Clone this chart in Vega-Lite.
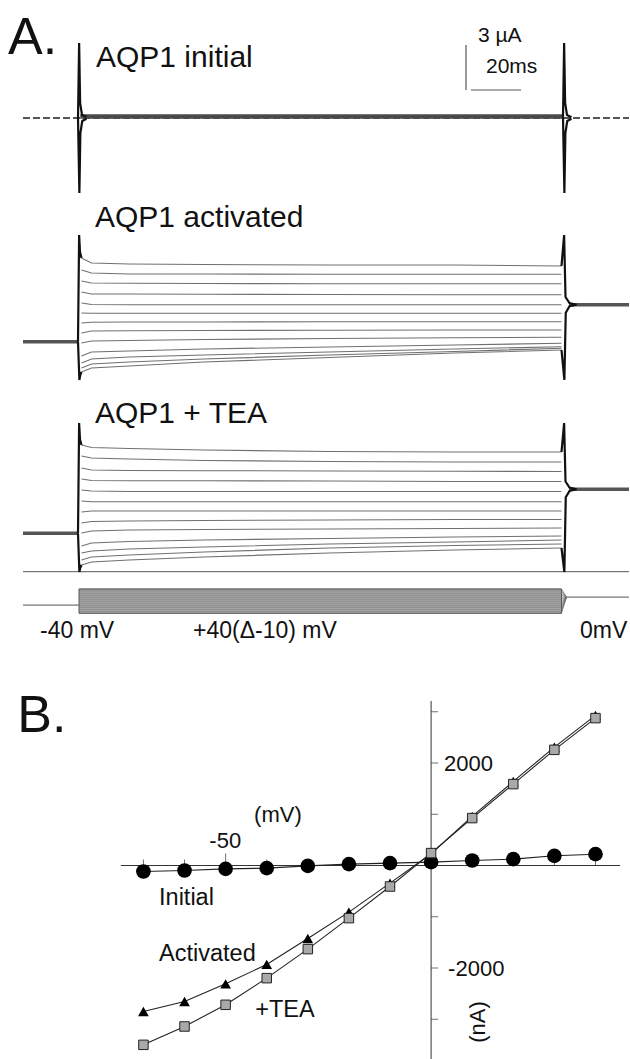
{
 "$schema": "https://vega.github.io/schema/vega-lite/v6.json",
 "padding": 0,
 "background": "white",
 "bounds": "flush",
 "spacing": 0,
 "config": {"view": {"stroke": null}, "text": {"font": "Liberation Sans", "color": "#111"}},
 "datasets": {
  "traces": [
   {"p":"a","s":40,"t":1,"i":3.4},{"p":"a","s":40,"t":5,"i":3.067},{"p":"a","s":40,"t":20,"i":3.0},{"p":"a","s":40,"t":50,"i":2.967},{"p":"a","s":40,"t":100,"i":2.933},{"p":"a","s":40,"t":150,"i":2.933},{"p":"a","s":40,"t":193,"i":2.867},
   {"p":"a","s":30,"t":1,"i":2.6},{"p":"a","s":30,"t":5,"i":2.4},{"p":"a","s":30,"t":20,"i":2.333},{"p":"a","s":30,"t":50,"i":2.333},{"p":"a","s":30,"t":100,"i":2.313},{"p":"a","s":30,"t":150,"i":2.313},{"p":"a","s":30,"t":193,"i":2.313},
   {"p":"a","s":20,"t":1,"i":1.867},{"p":"a","s":20,"t":5,"i":1.733},{"p":"a","s":20,"t":20,"i":1.713},{"p":"a","s":20,"t":50,"i":1.7},{"p":"a","s":20,"t":100,"i":1.687},{"p":"a","s":20,"t":150,"i":1.687},{"p":"a","s":20,"t":193,"i":1.687},
   {"p":"a","s":10,"t":1,"i":1.133},{"p":"a","s":10,"t":5,"i":1.0},{"p":"a","s":10,"t":20,"i":1.0},{"p":"a","s":10,"t":50,"i":0.98},{"p":"a","s":10,"t":100,"i":0.967},{"p":"a","s":10,"t":150,"i":0.953},{"p":"a","s":10,"t":193,"i":0.953},
   {"p":"a","s":0,"t":1,"i":0.4},{"p":"a","s":0,"t":5,"i":0.3},{"p":"a","s":0,"t":20,"i":0.287},{"p":"a","s":0,"t":50,"i":0.287},{"p":"a","s":0,"t":100,"i":0.287},{"p":"a","s":0,"t":150,"i":0.287},{"p":"a","s":0,"t":193,"i":0.287},
   {"p":"a","s":-10,"t":1,"i":-0.267},{"p":"a","s":-10,"t":5,"i":-0.287},{"p":"a","s":-10,"t":20,"i":-0.287},{"p":"a","s":-10,"t":50,"i":-0.287},{"p":"a","s":-10,"t":100,"i":-0.287},{"p":"a","s":-10,"t":150,"i":-0.287},{"p":"a","s":-10,"t":193,"i":-0.287},
   {"p":"a","s":-20,"t":1,"i":-0.933},{"p":"a","s":-20,"t":5,"i":-0.887},{"p":"a","s":-20,"t":20,"i":-0.867},{"p":"a","s":-20,"t":50,"i":-0.867},{"p":"a","s":-20,"t":100,"i":-0.853},{"p":"a","s":-20,"t":150,"i":-0.847},{"p":"a","s":-20,"t":193,"i":-0.847},
   {"p":"a","s":-30,"t":1,"i":-1.6},{"p":"a","s":-30,"t":5,"i":-1.467},{"p":"a","s":-30,"t":20,"i":-1.453},{"p":"a","s":-30,"t":50,"i":-1.433},{"p":"a","s":-30,"t":100,"i":-1.42},{"p":"a","s":-30,"t":150,"i":-1.4},{"p":"a","s":-30,"t":193,"i":-1.4},
   {"p":"a","s":-40,"t":1,"i":-2.267},{"p":"a","s":-40,"t":5,"i":-2.133},{"p":"a","s":-40,"t":20,"i":-2.1},{"p":"a","s":-40,"t":50,"i":-2.033},{"p":"a","s":-40,"t":100,"i":-1.967},{"p":"a","s":-40,"t":150,"i":-1.92},{"p":"a","s":-40,"t":193,"i":-1.887},
   {"p":"a","s":-50,"t":1,"i":-3.133},{"p":"a","s":-50,"t":5,"i":-2.867},{"p":"a","s":-50,"t":20,"i":-2.8},{"p":"a","s":-50,"t":50,"i":-2.667},{"p":"a","s":-50,"t":100,"i":-2.533},{"p":"a","s":-50,"t":150,"i":-2.4},{"p":"a","s":-50,"t":193,"i":-2.287},
   {"p":"a","s":-60,"t":1,"i":-3.6},{"p":"a","s":-60,"t":5,"i":-3.333},{"p":"a","s":-60,"t":20,"i":-3.2},{"p":"a","s":-60,"t":50,"i":-3.067},{"p":"a","s":-60,"t":100,"i":-2.867},{"p":"a","s":-60,"t":150,"i":-2.667},{"p":"a","s":-60,"t":193,"i":-2.513},
   {"p":"a","s":-70,"t":1,"i":-3.933},{"p":"a","s":-70,"t":5,"i":-3.667},{"p":"a","s":-70,"t":20,"i":-3.533},{"p":"a","s":-70,"t":50,"i":-3.333},{"p":"a","s":-70,"t":100,"i":-3.067},{"p":"a","s":-70,"t":150,"i":-2.833},{"p":"a","s":-70,"t":193,"i":-2.62},
   {"p":"a","s":-80,"t":1,"i":-4.2},{"p":"a","s":-80,"t":5,"i":-3.933},{"p":"a","s":-80,"t":20,"i":-3.8},{"p":"a","s":-80,"t":50,"i":-3.533},{"p":"a","s":-80,"t":100,"i":-3.233},{"p":"a","s":-80,"t":150,"i":-2.933},{"p":"a","s":-80,"t":193,"i":-2.733},
   {"p":"t","s":40,"t":1,"i":3.333},{"p":"t","s":40,"t":5,"i":3.167},{"p":"t","s":40,"t":20,"i":3.1},{"p":"t","s":40,"t":50,"i":3.0},{"p":"t","s":40,"t":100,"i":2.9},{"p":"t","s":40,"t":150,"i":2.867},{"p":"t","s":40,"t":193,"i":2.867},
   {"p":"t","s":30,"t":1,"i":2.6},{"p":"t","s":30,"t":5,"i":2.467},{"p":"t","s":30,"t":20,"i":2.4},{"p":"t","s":30,"t":50,"i":2.3},{"p":"t","s":30,"t":100,"i":2.233},{"p":"t","s":30,"t":150,"i":2.2},{"p":"t","s":30,"t":193,"i":2.2},
   {"p":"t","s":20,"t":1,"i":1.8},{"p":"t","s":20,"t":5,"i":1.667},{"p":"t","s":20,"t":20,"i":1.633},{"p":"t","s":20,"t":50,"i":1.62},{"p":"t","s":20,"t":100,"i":1.6},{"p":"t","s":20,"t":150,"i":1.58},{"p":"t","s":20,"t":193,"i":1.567},
   {"p":"t","s":10,"t":1,"i":1.067},{"p":"t","s":10,"t":5,"i":0.967},{"p":"t","s":10,"t":20,"i":0.953},{"p":"t","s":10,"t":50,"i":0.953},{"p":"t","s":10,"t":100,"i":0.933},{"p":"t","s":10,"t":150,"i":0.9},{"p":"t","s":10,"t":193,"i":0.9},
   {"p":"t","s":0,"t":1,"i":0.333},{"p":"t","s":0,"t":5,"i":0.267},{"p":"t","s":0,"t":20,"i":0.233},{"p":"t","s":0,"t":50,"i":0.233},{"p":"t","s":0,"t":100,"i":0.233},{"p":"t","s":0,"t":150,"i":0.233},{"p":"t","s":0,"t":193,"i":0.233},
   {"p":"t","s":-10,"t":1,"i":-0.4},{"p":"t","s":-10,"t":5,"i":-0.447},{"p":"t","s":-10,"t":20,"i":-0.447},{"p":"t","s":-10,"t":50,"i":-0.447},{"p":"t","s":-10,"t":100,"i":-0.447},{"p":"t","s":-10,"t":150,"i":-0.447},{"p":"t","s":-10,"t":193,"i":-0.447},
   {"p":"t","s":-20,"t":1,"i":-1.133},{"p":"t","s":-20,"t":5,"i":-1.067},{"p":"t","s":-20,"t":20,"i":-1.067},{"p":"t","s":-20,"t":50,"i":-1.067},{"p":"t","s":-20,"t":100,"i":-1.067},{"p":"t","s":-20,"t":150,"i":-1.067},{"p":"t","s":-20,"t":193,"i":-1.067},
   {"p":"t","s":-30,"t":1,"i":-1.867},{"p":"t","s":-30,"t":5,"i":-1.767},{"p":"t","s":-30,"t":20,"i":-1.733},{"p":"t","s":-30,"t":50,"i":-1.7},{"p":"t","s":-30,"t":100,"i":-1.667},{"p":"t","s":-30,"t":150,"i":-1.633},{"p":"t","s":-30,"t":193,"i":-1.633},
   {"p":"t","s":-40,"t":1,"i":-2.533},{"p":"t","s":-40,"t":5,"i":-2.4},{"p":"t","s":-40,"t":20,"i":-2.333},{"p":"t","s":-40,"t":50,"i":-2.3},{"p":"t","s":-40,"t":100,"i":-2.267},{"p":"t","s":-40,"t":150,"i":-2.233},{"p":"t","s":-40,"t":193,"i":-2.2},
   {"p":"t","s":-50,"t":1,"i":-3.4},{"p":"t","s":-50,"t":5,"i":-3.2},{"p":"t","s":-50,"t":20,"i":-3.1},{"p":"t","s":-50,"t":50,"i":-3.0},{"p":"t","s":-50,"t":100,"i":-2.9},{"p":"t","s":-50,"t":150,"i":-2.8},{"p":"t","s":-50,"t":193,"i":-2.733},
   {"p":"t","s":-60,"t":1,"i":-3.867},{"p":"t","s":-60,"t":5,"i":-3.733},{"p":"t","s":-60,"t":20,"i":-3.6},{"p":"t","s":-60,"t":50,"i":-3.467},{"p":"t","s":-60,"t":100,"i":-3.267},{"p":"t","s":-60,"t":150,"i":-3.133},{"p":"t","s":-60,"t":193,"i":-3.0},
   {"p":"t","s":-70,"t":1,"i":-4.333},{"p":"t","s":-70,"t":5,"i":-4.133},{"p":"t","s":-70,"t":20,"i":-4.0},{"p":"t","s":-70,"t":50,"i":-3.8},{"p":"t","s":-70,"t":100,"i":-3.533},{"p":"t","s":-70,"t":150,"i":-3.367},{"p":"t","s":-70,"t":193,"i":-3.267},
   {"p":"t","s":-80,"t":1,"i":-4.667},{"p":"t","s":-80,"t":5,"i":-4.467},{"p":"t","s":-80,"t":20,"i":-4.333},{"p":"t","s":-80,"t":50,"i":-4.133},{"p":"t","s":-80,"t":100,"i":-3.867},{"p":"t","s":-80,"t":150,"i":-3.667},{"p":"t","s":-80,"t":193,"i":-3.533}
  ],
  "spikes": [
   {"p":"i","k":"onU","t":-0.4,"i":0},{"p":"i","k":"onU","t":0.05,"i":5.0},{"p":"i","k":"onU","t":0.45,"i":1.0},{"p":"i","k":"onU","t":1.2,"i":0.2},{"p":"i","k":"onU","t":3,"i":0.08},
   {"p":"i","k":"onD","t":-0.4,"i":0},{"p":"i","k":"onD","t":0.15,"i":-5.0},{"p":"i","k":"onD","t":0.55,"i":-1.0},{"p":"i","k":"onD","t":1.3,"i":-0.2},{"p":"i","k":"onD","t":3,"i":-0.05},
   {"p":"i","k":"offU","t":193.6,"i":0.05},{"p":"i","k":"offU","t":194.05,"i":5.0},{"p":"i","k":"offU","t":194.45,"i":1.0},{"p":"i","k":"offU","t":195.2,"i":0.2},{"p":"i","k":"offU","t":197,"i":0.05},
   {"p":"i","k":"offD","t":193.6,"i":0.05},{"p":"i","k":"offD","t":194.15,"i":-5.0},{"p":"i","k":"offD","t":194.55,"i":-1.0},{"p":"i","k":"offD","t":195.3,"i":-0.2},{"p":"i","k":"offD","t":197,"i":-0.05},
   {"p":"a","k":"onU","t":-0.4,"i":-2.18},{"p":"a","k":"onU","t":0.05,"i":4.933},{"p":"a","k":"onU","t":0.4,"i":3.8},{"p":"a","k":"onU","t":1,"i":3.4},
   {"p":"a","k":"onD","t":-0.4,"i":-2.18},{"p":"a","k":"onD","t":0.15,"i":-4.733},{"p":"a","k":"onD","t":0.5,"i":-4.4},{"p":"a","k":"onD","t":1,"i":-4.2},
   {"p":"a","k":"offU","t":193,"i":2.867},{"p":"a","k":"offU","t":194.05,"i":4.933},{"p":"a","k":"offU","t":194.6,"i":0.8},{"p":"a","k":"offU","t":196.2,"i":0.4},{"p":"a","k":"offU","t":199,"i":0.287},
   {"p":"a","k":"offD","t":193,"i":-2.733},{"p":"a","k":"offD","t":194.15,"i":-4.733},{"p":"a","k":"offD","t":194.7,"i":-0.25},{"p":"a","k":"offD","t":196.2,"i":0.18},{"p":"a","k":"offD","t":199,"i":0.287},
   {"p":"t","k":"onU","t":-0.4,"i":-2.553},{"p":"t","k":"onU","t":0.05,"i":4.8},{"p":"t","k":"onU","t":0.4,"i":3.7},{"p":"t","k":"onU","t":1,"i":3.333},
   {"p":"t","k":"onD","t":-0.4,"i":-2.553},{"p":"t","k":"onD","t":0.15,"i":-5.133},{"p":"t","k":"onD","t":0.5,"i":-4.85},{"p":"t","k":"onD","t":1,"i":-4.667},
   {"p":"t","k":"offU","t":193,"i":2.867},{"p":"t","k":"offU","t":194.05,"i":4.8},{"p":"t","k":"offU","t":194.6,"i":0.9},{"p":"t","k":"offU","t":196.2,"i":0.5},{"p":"t","k":"offU","t":199,"i":0.38},
   {"p":"t","k":"offD","t":193,"i":-3.533},{"p":"t","k":"offD","t":194.15,"i":-5.133},{"p":"t","k":"offD","t":194.7,"i":-0.15},{"p":"t","k":"offD","t":196.2,"i":0.27},{"p":"t","k":"offD","t":199,"i":0.38}
  ],
  "bands": [
   {"p":"i","k":"base","t":-22.4,"i":0},{"p":"i","k":"base","t":220,"i":0},
   {"p":"i","k":"step","t":0.5,"i":0.1},{"p":"i","k":"step","t":193.5,"i":0.1},
   {"p":"a","k":"pre","t":-22.4,"i":-2.18},{"p":"a","k":"pre","t":-0.4,"i":-2.18},
   {"p":"a","k":"post","t":196,"i":0.287},{"p":"a","k":"post","t":220,"i":0.287},
   {"p":"t","k":"pre","t":-22.4,"i":-2.553},{"p":"t","k":"pre","t":-0.4,"i":-2.553},
   {"p":"t","k":"post","t":196,"i":0.38},{"p":"t","k":"post","t":220,"i":0.38}
  ],
  "prot": [
   {"s":40,"t":0,"v":40},{"s":40,"t":193,"v":40},{"s":40,"t":195,"v":0},
   {"s":30,"t":0,"v":30},{"s":30,"t":193,"v":30},{"s":30,"t":195,"v":0},
   {"s":20,"t":0,"v":20},{"s":20,"t":193,"v":20},{"s":20,"t":195,"v":0},
   {"s":10,"t":0,"v":10},{"s":10,"t":193,"v":10},{"s":10,"t":195,"v":0},
   {"s":0,"t":0,"v":0},{"s":0,"t":193,"v":0},{"s":0,"t":195,"v":0},
   {"s":-10,"t":0,"v":-10},{"s":-10,"t":193,"v":-10},{"s":-10,"t":195,"v":0},
   {"s":-20,"t":0,"v":-20},{"s":-20,"t":193,"v":-20},{"s":-20,"t":195,"v":0},
   {"s":-30,"t":0,"v":-30},{"s":-30,"t":193,"v":-30},{"s":-30,"t":195,"v":0},
   {"s":-40,"t":0,"v":-40},{"s":-40,"t":193,"v":-40},{"s":-40,"t":195,"v":0},
   {"s":-50,"t":0,"v":-50},{"s":-50,"t":193,"v":-50},{"s":-50,"t":195,"v":0},
   {"s":-60,"t":0,"v":-60},{"s":-60,"t":193,"v":-60},{"s":-60,"t":195,"v":0},
   {"s":-70,"t":0,"v":-70},{"s":-70,"t":193,"v":-70},{"s":-70,"t":195,"v":0},
   {"s":-80,"t":0,"v":-80},{"s":-80,"t":193,"v":-80},{"s":-80,"t":195,"v":0}
  ],
  "iv": [
   {"c":"Initial","mV":-70,"nA":-117},{"c":"Initial","mV":-60,"nA":-98},{"c":"Initial","mV":-50,"nA":-65},{"c":"Initial","mV":-40,"nA":-52},{"c":"Initial","mV":-30,"nA":-7},{"c":"Initial","mV":-20,"nA":26},{"c":"Initial","mV":-10,"nA":46},{"c":"Initial","mV":0,"nA":65},{"c":"Initial","mV":10,"nA":98},{"c":"Initial","mV":20,"nA":124},{"c":"Initial","mV":30,"nA":189},{"c":"Initial","mV":40,"nA":221},
   {"c":"Activated","mV":-70,"nA":-2849},{"c":"Activated","mV":-60,"nA":-2654},{"c":"Activated","mV":-50,"nA":-2309},{"c":"Activated","mV":-40,"nA":-1931},{"c":"Activated","mV":-30,"nA":-1424},{"c":"Activated","mV":-20,"nA":-910},{"c":"Activated","mV":-10,"nA":-344},{"c":"Activated","mV":0,"nA":230},{"c":"Activated","mV":10,"nA":960},{"c":"Activated","mV":20,"nA":1640},{"c":"Activated","mV":30,"nA":2310},{"c":"Activated","mV":40,"nA":2930},
   {"c":"TEA","mV":-70,"nA":-3499},{"c":"TEA","mV":-60,"nA":-3141},{"c":"TEA","mV":-50,"nA":-2718},{"c":"TEA","mV":-40,"nA":-2198},{"c":"TEA","mV":-30,"nA":-1632},{"c":"TEA","mV":-20,"nA":-1027},{"c":"TEA","mV":-10,"nA":-410},{"c":"TEA","mV":0,"nA":242},{"c":"TEA","mV":10,"nA":925},{"c":"TEA","mV":20,"nA":1588},{"c":"TEA","mV":30,"nA":2257},{"c":"TEA","mV":40,"nA":2876}
  ]
 },
 "vconcat": [
  {
   "width": 630, "height": 200,
   "layer": [
    {"data": {"name": "bands"}, "transform": [{"filter": "datum.p == 'i' && datum.k == 'base'"}],
     "mark": {"type": "line", "stroke": "#555", "strokeWidth": 1.8, "strokeDash": [7, 3]},
     "encoding": {"x": {"field": "t", "type": "quantitative", "scale": {"domain": [-31.6, 220.4], "nice": false}, "axis": null},
                  "y": {"field": "i", "type": "quantitative", "scale": {"domain": [-5.4667, 7.8667], "nice": false}, "axis": null}}},
    {"data": {"name": "bands"}, "transform": [{"filter": "datum.p == 'i' && datum.k == 'step'"}],
     "mark": {"type": "line", "stroke": "#4a4a4a", "strokeWidth": 4.5},
     "encoding": {"x": {"field": "t", "type": "quantitative"}, "y": {"field": "i", "type": "quantitative"}}},
    {"data": {"name": "spikes"}, "transform": [{"filter": "datum.p == 'i'"}],
     "mark": {"type": "line", "stroke": "#111", "strokeWidth": 2.2},
     "encoding": {"x": {"field": "t", "type": "quantitative"}, "y": {"field": "i", "type": "quantitative"}, "detail": {"field": "k"}}},
    {"data": {"values": [{"t": 154.8, "t2": 154.8, "i": 1.867, "i2": 4.867}, {"t": 156.8, "t2": 176.8, "i": 1.867, "i2": 1.867}]},
     "mark": {"type": "rule", "stroke": "#555", "strokeWidth": 1.2},
     "encoding": {"x": {"field": "t", "type": "quantitative"}, "x2": {"field": "t2"}, "y": {"field": "i", "type": "quantitative"}, "y2": {"field": "i2"}}},
    {"data": {"values": [{"t": -28.4, "i": 4.267, "txt": "A."}]},
     "mark": {"type": "text", "fontSize": 52, "align": "left", "baseline": "alphabetic"},
     "encoding": {"x": {"field": "t", "type": "quantitative"}, "y": {"field": "i", "type": "quantitative"}, "text": {"field": "txt"}}},
    {"data": {"values": [{"t": 6.8, "i": 3.4, "txt": "AQP1 initial"}]},
     "mark": {"type": "text", "fontSize": 30, "align": "left", "baseline": "alphabetic"},
     "encoding": {"x": {"field": "t", "type": "quantitative"}, "y": {"field": "i", "type": "quantitative"}, "text": {"field": "txt"}}},
    {"data": {"values": [{"t": 159.6, "i": 5.067, "txt": "3 µA"}, {"t": 162.8, "i": 3.0, "txt": "20ms"}]},
     "mark": {"type": "text", "fontSize": 21, "align": "left", "baseline": "alphabetic"},
     "encoding": {"x": {"field": "t", "type": "quantitative"}, "y": {"field": "i", "type": "quantitative"}, "text": {"field": "txt"}}}
   ]
  },
  {
   "width": 630, "height": 190,
   "layer": [
    {"data": {"name": "traces"}, "transform": [{"filter": "datum.p == 'a'"}],
     "mark": {"type": "line", "stroke": "#707070", "strokeWidth": 1.1},
     "encoding": {"x": {"field": "t", "type": "quantitative", "scale": {"domain": [-31.6, 220.4], "nice": false}, "axis": null},
                  "y": {"field": "i", "type": "quantitative", "scale": {"domain": [-5.4, 7.2667], "nice": false}, "axis": null},
                  "detail": {"field": "s"}}},
    {"data": {"name": "bands"}, "transform": [{"filter": "datum.p == 'a'"}],
     "mark": {"type": "line", "stroke": "#555", "strokeWidth": 3.5},
     "encoding": {"x": {"field": "t", "type": "quantitative"}, "y": {"field": "i", "type": "quantitative"}, "detail": {"field": "k"}}},
    {"data": {"name": "spikes"}, "transform": [{"filter": "datum.p == 'a'"}],
     "mark": {"type": "line", "stroke": "#111", "strokeWidth": 2.2},
     "encoding": {"x": {"field": "t", "type": "quantitative"}, "y": {"field": "i", "type": "quantitative"}, "detail": {"field": "k"}}},
    {"data": {"values": [{"t": 6.4, "i": 5.467, "txt": "AQP1 activated"}]},
     "mark": {"type": "text", "fontSize": 30, "align": "left", "baseline": "alphabetic"},
     "encoding": {"x": {"field": "t", "type": "quantitative"}, "y": {"field": "i", "type": "quantitative"}, "text": {"field": "txt"}}}
   ]
  },
  {
   "width": 630, "height": 185,
   "layer": [
    {"data": {"values": [{"t": -22.4, "t2": 220, "i": -5.113}]},
     "mark": {"type": "rule", "stroke": "#777", "strokeWidth": 1.2},
     "encoding": {"x": {"field": "t", "type": "quantitative", "scale": {"domain": [-31.6, 220.4], "nice": false}, "axis": null}, "x2": {"field": "t2"},
                  "y": {"field": "i", "type": "quantitative", "scale": {"domain": [-5.3333, 7.0], "nice": false}, "axis": null}}},
    {"data": {"name": "traces"}, "transform": [{"filter": "datum.p == 't'"}],
     "mark": {"type": "line", "stroke": "#707070", "strokeWidth": 1.1},
     "encoding": {"x": {"field": "t", "type": "quantitative"}, "y": {"field": "i", "type": "quantitative"}, "detail": {"field": "s"}}},
    {"data": {"name": "bands"}, "transform": [{"filter": "datum.p == 't'"}],
     "mark": {"type": "line", "stroke": "#555", "strokeWidth": 3.5},
     "encoding": {"x": {"field": "t", "type": "quantitative"}, "y": {"field": "i", "type": "quantitative"}, "detail": {"field": "k"}}},
    {"data": {"name": "spikes"}, "transform": [{"filter": "datum.p == 't'"}],
     "mark": {"type": "line", "stroke": "#111", "strokeWidth": 2.2},
     "encoding": {"x": {"field": "t", "type": "quantitative"}, "y": {"field": "i", "type": "quantitative"}, "detail": {"field": "k"}}},
    {"data": {"values": [{"t": 6.4, "i": 4.8, "txt": "AQP1 + TEA"}]},
     "mark": {"type": "text", "fontSize": 30, "align": "left", "baseline": "alphabetic"},
     "encoding": {"x": {"field": "t", "type": "quantitative"}, "y": {"field": "i", "type": "quantitative"}, "text": {"field": "txt"}}}
   ]
  },
  {
   "width": 630, "height": 85,
   "layer": [
    {"data": {"values": [{"t": 0, "t2": 193, "v": -80, "v2": 40}]},
     "mark": {"type": "rect", "fill": "#b3b3b3", "stroke": "#555", "strokeWidth": 1},
     "encoding": {"x": {"field": "t", "type": "quantitative", "scale": {"domain": [-31.6, 220.4], "nice": false}, "axis": null}, "x2": {"field": "t2"},
                  "y": {"field": "v", "type": "quantitative", "scale": {"domain": [-310.62, 109.14], "nice": false}, "axis": null}, "y2": {"field": "v2"}}},
    {"data": {"name": "prot"},
     "mark": {"type": "line", "stroke": "#6a6a6a", "strokeWidth": 0.7},
     "encoding": {"x": {"field": "t", "type": "quantitative"}, "y": {"field": "v", "type": "quantitative"}, "detail": {"field": "s"}}},
    {"data": {"values": [{"k": "hold", "t": -22.4, "v": -40}, {"k": "hold", "t": 0, "v": -40}, {"k": "post", "t": 195, "v": 0}, {"k": "post", "t": 220, "v": 0}]},
     "mark": {"type": "line", "stroke": "#777", "strokeWidth": 1.2},
     "encoding": {"x": {"field": "t", "type": "quantitative"}, "y": {"field": "v", "type": "quantitative"}, "detail": {"field": "k"}}},
    {"data": {"values": [{"t": -15.6, "v": -203.5, "txt": "-40 mV"}, {"t": 45.6, "v": -203.5, "txt": "+40(Δ-10) mV"}, {"t": 200.4, "v": -203.5, "txt": "0mV"}]},
     "mark": {"type": "text", "fontSize": 23, "align": "left", "baseline": "alphabetic"},
     "encoding": {"x": {"field": "t", "type": "quantitative"}, "y": {"field": "v", "type": "quantitative"}, "text": {"field": "txt"}}}
   ]
  },
  {
   "width": 630, "height": 399,
   "layer": [
    {"data": {"values": [{"x1": -75.5, "x2": 46, "y1": 0, "y2": 0}, {"x1": 0, "x2": 0, "y1": -3775, "y2": 3210}]},
     "mark": {"type": "rule", "stroke": "#333", "strokeWidth": 1},
     "encoding": {"x": {"field": "x1", "type": "quantitative", "scale": {"domain": [-104.9, 48.4], "nice": false}, "axis": null}, "x2": {"field": "x2"},
                  "y": {"field": "y1", "type": "quantitative", "scale": {"domain": [-3775.6, 4009.8], "nice": false}, "axis": null}, "y2": {"field": "y2"}}},
    {"data": {"values": [{"mV": -70}, {"mV": -60}, {"mV": -40}, {"mV": -30}, {"mV": -20}, {"mV": -10}, {"mV": 10}, {"mV": 20}, {"mV": 30}, {"mV": 40}]},
     "mark": {"type": "tick", "orient": "vertical", "size": 6, "thickness": 1, "yOffset": -3, "color": "#333"},
     "encoding": {"x": {"field": "mV", "type": "quantitative"}, "y": {"datum": 0, "type": "quantitative"}}},
    {"data": {"values": [{"mV": -50}]},
     "mark": {"type": "tick", "orient": "vertical", "size": 12, "thickness": 1, "yOffset": -6, "color": "#333"},
     "encoding": {"x": {"field": "mV", "type": "quantitative"}, "y": {"datum": 0, "type": "quantitative"}}},
    {"data": {"values": [{"nA": 3000}, {"nA": 2000}, {"nA": 1000}, {"nA": -1000}, {"nA": -2000}, {"nA": -3000}]},
     "mark": {"type": "tick", "orient": "horizontal", "size": 7, "thickness": 1, "xOffset": 3.5, "color": "#333"},
     "encoding": {"x": {"datum": 0, "type": "quantitative"}, "y": {"field": "nA", "type": "quantitative"}}},
    {"data": {"name": "iv"},
     "mark": {"type": "line", "stroke": "#222", "strokeWidth": 1.1},
     "encoding": {"x": {"field": "mV", "type": "quantitative"}, "y": {"field": "nA", "type": "quantitative"}, "detail": {"field": "c"}}},
    {"data": {"name": "iv"}, "transform": [{"filter": "datum.c == 'Initial'"}],
     "mark": {"type": "point", "shape": "circle", "filled": true, "size": 215, "color": "#000", "opacity": 1},
     "encoding": {"x": {"field": "mV", "type": "quantitative"}, "y": {"field": "nA", "type": "quantitative"}}},
    {"data": {"name": "iv"}, "transform": [{"filter": "datum.c == 'Activated'"}],
     "mark": {"type": "point", "shape": "triangle-up", "filled": true, "size": 115, "color": "#000", "opacity": 1},
     "encoding": {"x": {"field": "mV", "type": "quantitative"}, "y": {"field": "nA", "type": "quantitative"}}},
    {"data": {"name": "iv"}, "transform": [{"filter": "datum.c == 'TEA'"}],
     "mark": {"type": "point", "shape": "square", "filled": true, "size": 90, "fill": "#a9a9a9", "stroke": "#222", "strokeWidth": 1, "opacity": 1},
     "encoding": {"x": {"field": "mV", "type": "quantitative"}, "y": {"field": "nA", "type": "quantitative"}}},
    {"data": {"values": [{"x": -100.7, "y": 2605, "txt": "B."}]},
     "mark": {"type": "text", "fontSize": 52, "align": "left", "baseline": "alphabetic"},
     "encoding": {"x": {"field": "x", "type": "quantitative"}, "y": {"field": "y", "type": "quantitative"}, "text": {"field": "txt"}}},
    {"data": {"values": [{"x": -43.07, "y": 843, "txt": "(mV)"}, {"x": 3.16, "y": 1850, "txt": "2000"}, {"x": 4.14, "y": -2156, "txt": "-2000"}]},
     "mark": {"type": "text", "fontSize": 22, "align": "left", "baseline": "alphabetic"},
     "encoding": {"x": {"field": "x", "type": "quantitative"}, "y": {"field": "y", "type": "quantitative"}, "text": {"field": "txt"}}},
    {"data": {"values": [{"x": -50.1, "y": 335, "txt": "-50"}]},
     "mark": {"type": "text", "fontSize": 22, "align": "center", "baseline": "alphabetic"},
     "encoding": {"x": {"field": "x", "type": "quantitative"}, "y": {"field": "y", "type": "quantitative"}, "text": {"field": "txt"}}},
    {"data": {"values": [{"x": -66.2, "y": -771, "txt": "Initial"}, {"x": -66.2, "y": -1858, "txt": "Activated"}, {"x": -42.8, "y": -2950, "txt": "+TEA"}]},
     "mark": {"type": "text", "fontSize": 23.5, "align": "left", "baseline": "alphabetic"},
     "encoding": {"x": {"field": "x", "type": "quantitative"}, "y": {"field": "y", "type": "quantitative"}, "text": {"field": "txt"}}},
    {"data": {"values": [{"x": 11.44, "y": -3054, "txt": "(nA)"}]},
     "mark": {"type": "text", "fontSize": 22, "align": "center", "baseline": "middle", "angle": 270},
     "encoding": {"x": {"field": "x", "type": "quantitative"}, "y": {"field": "y", "type": "quantitative"}, "text": {"field": "txt"}}}
   ]
  }
 ]
}
